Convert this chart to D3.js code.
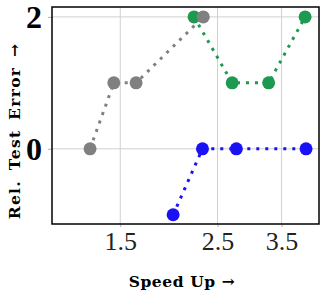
<!DOCTYPE html>
<html>
<head>
<meta charset="utf-8">
<script src="https://cdn.jsdelivr.net/npm/d3@7"></script>
<style>
  body { margin: 0; background: #fff; }
  text { font-family: "Liberation Serif", serif; }
</style>
</head>
<body>
<div id="chart"></div>
<script>
var svgWidth = 325;
var svgHeight = 296;

var margin = { top: 7, right: 6, bottom: 72, left: 52 };
var width = svgWidth - margin.left - margin.right;
var height = svgHeight - margin.top - margin.bottom;

// series values
var grayX = [1.28, 1.45, 1.63, 2.32];
var grayY = [0, 1, 1, 2];
var greenX = [2.21, 2.70, 3.27, 3.96];
var greenY = [2, 1, 1, 2];
var blueX = [1.98, 2.31, 2.76, 3.98];
var blueY = [-1, 0, 0, 0];

var xTicks = [1.5, 2.5, 3.5];
var yTicks = [0, 2];

var series = [
    { name: "green", xs: greenX, ys: greenY, color: "#1e9a50", width: 3, dash: "3,6" },
    { name: "blue", xs: blueX, ys: blueY, color: "#1a12f5", width: 3, dash: "3,6" },
    { name: "gray", xs: grayX, ys: grayY, color: "#808080", width: 3, dash: "3,6" }
];

var svg = d3.select("#chart")
    .append("svg")
    .attr("width", svgWidth)
    .attr("height", svgHeight);

var chartGroup = svg.append("g")
    .attr("transform", `translate(${margin.left}, ${margin.top})`);

var xScale = d3.scaleLog()
    .domain([1.048, 4.26])
    .range([0, width]);

var yScale = d3.scaleLinear()
    .domain([-1.14, 2.15])
    .range([height, 0]);

// grid
chartGroup.append("g")
    .selectAll("line.vg")
    .data(xTicks)
    .enter()
    .append("line")
        .attr("x1", d => xScale(d))
        .attr("x2", d => xScale(d))
        .attr("y1", 0)
        .attr("y2", height)
        .attr("stroke", "#d0d0d0")
        .attr("stroke-width", 1);

chartGroup.append("g")
    .selectAll("line.hg")
    .data(yTicks)
    .enter()
    .append("line")
        .attr("x1", 0)
        .attr("x2", width)
        .attr("y1", d => yScale(d))
        .attr("y2", d => yScale(d))
        .attr("stroke", "#d0d0d0")
        .attr("stroke-width", 1);

// axes
var bottomAxis = d3.axisBottom(xScale)
    .tickValues(xTicks)
    .tickFormat(d3.format(".1f"))
    .tickSizeInner(3)
    .tickSizeOuter(0)
    .tickPadding(5);

var leftAxis = d3.axisLeft(yScale)
    .tickValues(yTicks)
    .tickFormat(d3.format("d"))
    .tickSizeInner(4)
    .tickSizeOuter(0)
    .tickPadding(6);

var xAxis = chartGroup.append("g")
    .attr("transform", `translate(0, ${height})`)
    .call(bottomAxis);
xAxis.select(".domain").remove();
xAxis.selectAll(".tick line").attr("stroke", "#b0b0b0");
xAxis.selectAll("text")
    .attr("fill", "#222")
    .style("font-size", "26px")
    .style("font-family", "Liberation Serif, serif");

var yAxis = chartGroup.append("g")
    .call(leftAxis);
yAxis.select(".domain").remove();
yAxis.selectAll(".tick line").attr("stroke", "#b0b0b0");
yAxis.selectAll("text")
    .attr("fill", "#000")
    .attr("dy", "0.34em")
    .style("font-size", "32px")
    .style("font-weight", "bold")
    .style("font-family", "Liberation Serif, serif");

// lines and dots
var line = d3.line()
    .x(d => xScale(d[0]))
    .y(d => yScale(d[1]));

series.forEach((s) => {
    var pts = s.xs.map((x, i) => [x, s.ys[i]]);
    var g = chartGroup.append("g").attr("class", s.name);
    g.append("path")
        .datum(pts)
        .attr("d", line)
        .attr("fill", "none")
        .attr("stroke", s.color)
        .attr("stroke-width", s.width)
        .attr("stroke-dasharray", s.dash);
    g.selectAll("circle")
        .data(pts)
        .enter()
        .append("circle")
            .attr("cx", d => xScale(d[0]))
            .attr("cy", d => yScale(d[1]))
            .attr("r", 6.5)
            .attr("fill", s.color);
});

// frame
chartGroup.append("rect")
    .attr("x", 0)
    .attr("y", 0)
    .attr("width", width)
    .attr("height", height)
    .attr("fill", "none")
    .attr("stroke", "#000")
    .attr("stroke-width", 1.5);

// labels
svg.append("text")
    .attr("x", 182)
    .attr("y", 287)
    .attr("text-anchor", "middle")
    .style("font-family", "DejaVu Serif, serif")
    .style("font-size", "15.5px")
    .style("font-weight", "bold")
    .style("letter-spacing", "0.6px")
    .text("Speed Up \u2192");

svg.append("text")
    .attr("transform", "translate(20, 131) rotate(-90)")
    .attr("text-anchor", "middle")
    .style("font-family", "DejaVu Serif, serif")
    .style("font-size", "15.5px")
    .style("font-weight", "bold")
    .style("letter-spacing", "1.3px")
    .style("word-spacing", "3px")
    .text("Rel. Test Error \u2192");
</script>
</body>
</html>
